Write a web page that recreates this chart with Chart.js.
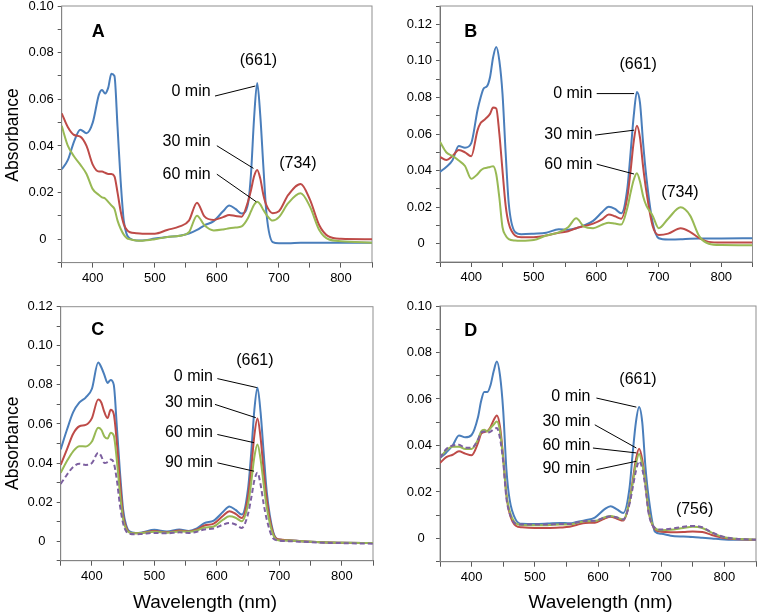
<!DOCTYPE html>
<html>
<head>
<meta charset="utf-8">
<script src="https://cdn.jsdelivr.net/npm/chart.js@4.4.1/dist/chart.umd.min.js"></script>
<style>
  html, body { margin: 0; padding: 0; background: #fff; }
  #figure { position: relative; width: 760px; height: 616px; }
  #figure canvas { position: absolute; }
</style>
</head>
<body>
<div id="figure">
  <canvas id="panel-a" width="380" height="290" style="left:0;top:0"></canvas>
  <canvas id="panel-b" width="380" height="290" style="left:380px;top:0"></canvas>
  <canvas id="panel-c" width="380" height="326" style="left:0;top:290px"></canvas>
  <canvas id="panel-d" width="380" height="326" style="left:380px;top:290px"></canvas>
</div>
<script>
// wavelength grid (nm) shared by every spectrum
const wavelengths = [350, 360, 370, 380, 390, 400, 410, 415, 420, 425,
    430, 435, 440, 445, 450, 455, 460, 470, 480, 500,
    520, 540, 555, 568, 580, 595, 610, 620, 630, 640,
    650, 655, 660, 665, 670, 675, 680, 690, 700, 715,
    735, 750, 765, 780, 800, 850];

// panel A
const aMin0 = [0.030, 0.034, 0.042, 0.047, 0.0455, 0.050, 0.062, 0.064, 0.0625, 0.065,
    0.071, 0.070, 0.048, 0.025, 0.008, 0.002, 0.0003, -0.0005, -0.0005, 0.0003,
    0.001, 0.0015, 0.0025, 0.004, 0.006, 0.0078, 0.012, 0.0145, 0.013, 0.011,
    0.015, 0.028, 0.052, 0.067, 0.053, 0.031, 0.011, -0.0012, -0.0017, -0.0017,
    -0.0015, -0.0015, -0.0015, -0.0015, -0.0015, -0.0015];
const aMin30 = [0.054, 0.048, 0.0447, 0.044, 0.040, 0.032, 0.029, 0.029, 0.0285, 0.028,
    0.028, 0.027, 0.020, 0.012, 0.0065, 0.004, 0.003, 0.0026, 0.0024, 0.0024,
    0.004, 0.0055, 0.008, 0.0157, 0.0098, 0.0083, 0.0095, 0.0104, 0.0100, 0.0097,
    0.016, 0.021, 0.027, 0.0297, 0.026, 0.019, 0.0145, 0.0112, 0.012, 0.019,
    0.0237, 0.017, 0.006, 0.0012, 0.0002, 0.0];
const aMin60 = [0.0486, 0.040, 0.0355, 0.032, 0.028, 0.0215, 0.019, 0.018, 0.0175, 0.016,
    0.0145, 0.013, 0.008, 0.0045, 0.002, 0.0005, 0.0, -0.0005, -0.0006, 0.0,
    0.001, 0.0015, 0.003, 0.0101, 0.006, 0.0038, 0.0042, 0.0047, 0.005, 0.0055,
    0.009, 0.012, 0.0148, 0.0161, 0.015, 0.0125, 0.0105, 0.008, 0.0095, 0.0155,
    0.0197, 0.014, 0.004, 0.0, -0.0008, -0.0015];

// panel B
const bMin0 = [0.0393, 0.042, 0.0457, 0.0535, 0.0525, 0.055, 0.073, 0.080, 0.085, 0.086,
    0.091, 0.102, 0.1076, 0.100, 0.082, 0.050, 0.022, 0.0065, 0.0052, 0.0055,
    0.006, 0.0079, 0.0077, 0.0085, 0.010, 0.0125, 0.0175, 0.0202, 0.019, 0.0166,
    0.031, 0.050, 0.070, 0.083, 0.077, 0.055, 0.037, 0.012, 0.003, 0.0023,
    0.0024, 0.0027, 0.0028, 0.0028, 0.0029, 0.003];
const bMin30 = [0.0475, 0.0458, 0.048, 0.0512, 0.050, 0.0478, 0.062, 0.066, 0.0675, 0.069,
    0.071, 0.0745, 0.074, 0.060, 0.040, 0.021, 0.011, 0.0045, 0.0035, 0.0036,
    0.0045, 0.006, 0.0068, 0.0085, 0.0095, 0.011, 0.0135, 0.016, 0.015, 0.0137,
    0.026, 0.040, 0.056, 0.0645, 0.058, 0.042, 0.029, 0.010, 0.0048, 0.0055,
    0.0084, 0.0065, 0.003, 0.001, 0.0006, 0.0006];
const bMin60 = [0.0557, 0.050, 0.048, 0.0455, 0.0425, 0.0355, 0.038, 0.040, 0.0412, 0.0415,
    0.042, 0.0424, 0.038, 0.025, 0.009, 0.0045, 0.0025, 0.0017, 0.0016, 0.002,
    0.0045, 0.0062, 0.009, 0.0139, 0.0095, 0.0085, 0.0105, 0.0115, 0.011, 0.0105,
    0.020, 0.028, 0.035, 0.0385, 0.034, 0.026, 0.021, 0.0155, 0.0085, 0.0137,
    0.0199, 0.0155, 0.004, 0.0, -0.0007, -0.0008];

// panel C
const cMin0 = [0.047, 0.057, 0.066, 0.071, 0.0735, 0.078, 0.0915, 0.089, 0.085, 0.081,
    0.0825, 0.080, 0.058, 0.035, 0.016, 0.008, 0.005, 0.0042, 0.0045, 0.0058,
    0.005, 0.006, 0.0052, 0.0065, 0.0092, 0.0105, 0.015, 0.0178, 0.016, 0.0136,
    0.027, 0.045, 0.067, 0.0785, 0.066, 0.045, 0.025, 0.005, 0.0008, 0.0005,
    0.0, -0.0003, -0.0005, -0.0007, -0.0008, -0.001];
const cMin30 = [0.039, 0.047, 0.055, 0.0588, 0.0595, 0.063, 0.0725, 0.071, 0.066, 0.063,
    0.0672, 0.065, 0.050, 0.030, 0.013, 0.007, 0.0045, 0.004, 0.0042, 0.0052,
    0.0045, 0.0055, 0.005, 0.006, 0.008, 0.009, 0.013, 0.0153, 0.014, 0.0119,
    0.023, 0.037, 0.054, 0.0628, 0.053, 0.036, 0.021, 0.0042, 0.0008, 0.0005,
    0.0, -0.0003, -0.0005, -0.0007, -0.0008, -0.001];
const cMin60 = [0.035, 0.041, 0.046, 0.0486, 0.0485, 0.051, 0.058, 0.057, 0.0535, 0.0525,
    0.0555, 0.054, 0.041, 0.024, 0.011, 0.006, 0.0045, 0.004, 0.0042, 0.0048,
    0.0043, 0.005, 0.0048, 0.0055, 0.007, 0.0075, 0.011, 0.0127, 0.012, 0.0102,
    0.019, 0.030, 0.043, 0.0495, 0.042, 0.029, 0.017, 0.0033, 0.0003, 0.0003,
    0.0, -0.0003, -0.0005, -0.0007, -0.0008, -0.001];
const cMin90 = [0.0293, 0.034, 0.038, 0.0396, 0.039, 0.040, 0.0452, 0.0435, 0.040, 0.0405,
    0.0418, 0.040, 0.031, 0.018, 0.009, 0.005, 0.0038, 0.0035, 0.0037, 0.0042,
    0.004, 0.0045, 0.0042, 0.0048, 0.006, 0.0065, 0.0085, 0.0093, 0.0085, 0.0068,
    0.014, 0.022, 0.031, 0.035, 0.029, 0.019, 0.011, 0.0015, 0.0003, 0.0,
    -0.0003, -0.0005, -0.0007, -0.0009, -0.001, -0.0013];

// panel D
const dMin0 = [0.0346, 0.037, 0.040, 0.0443, 0.0435, 0.0445, 0.052, 0.059, 0.063, 0.063,
    0.066, 0.072, 0.0761, 0.070, 0.055, 0.030, 0.017, 0.008, 0.0063, 0.0062,
    0.0064, 0.0067, 0.0065, 0.0072, 0.0078, 0.009, 0.0125, 0.0139, 0.0125, 0.011,
    0.022, 0.037, 0.050, 0.0565, 0.050, 0.031, 0.018, 0.003, 0.002, 0.0012,
    0.0008, 0.0006, 0.0003, 0.0, -0.0004, -0.0006];
const dMin30 = [0.0325, 0.035, 0.036, 0.0375, 0.0365, 0.0358, 0.041, 0.045, 0.0458, 0.0462,
    0.048, 0.051, 0.0529, 0.048, 0.035, 0.019, 0.011, 0.0055, 0.0048, 0.0045,
    0.0045, 0.0047, 0.005, 0.006, 0.0067, 0.0068, 0.0085, 0.0093, 0.0085, 0.0077,
    0.016, 0.025, 0.034, 0.0386, 0.034, 0.024, 0.012, 0.004, 0.0029, 0.0027,
    0.0028, 0.003, 0.0028, 0.0015, 0.0002, -0.0006];
const dMin60 = [0.0346, 0.038, 0.0395, 0.0395, 0.0385, 0.0385, 0.0425, 0.046, 0.0468, 0.046,
    0.0475, 0.049, 0.0503, 0.046, 0.034, 0.019, 0.012, 0.0065, 0.0058, 0.0057,
    0.0057, 0.006, 0.006, 0.0068, 0.0074, 0.0075, 0.009, 0.0097, 0.009, 0.0082,
    0.016, 0.024, 0.032, 0.0363, 0.032, 0.024, 0.012, 0.0045, 0.0035, 0.0037,
    0.0045, 0.005, 0.0045, 0.0025, 0.0005, -0.0006];
const dMin90 = [0.0346, 0.0385, 0.040, 0.0403, 0.039, 0.039, 0.0425, 0.0455, 0.046, 0.0455,
    0.046, 0.047, 0.0475, 0.043, 0.033, 0.0175, 0.011, 0.0063, 0.006, 0.006,
    0.006, 0.0062, 0.0062, 0.007, 0.0075, 0.0076, 0.009, 0.0096, 0.009, 0.0082,
    0.015, 0.022, 0.029, 0.0332, 0.030, 0.022, 0.011, 0.0045, 0.0038, 0.0042,
    0.005, 0.0054, 0.0048, 0.0026, 0.0006, -0.0006];

// tick labels
const xTickLabels = [400, 500, 600, 700, 800];
const yLabelEvery = 2; // label every 0.02, minor ticks every 0.01

const FONT = '"Liberation Sans", Arial, sans-serif';
const seriesLook = {
    '0 min':  { color: '#4a7ebb', dash: [], order: 3 },
    '30 min': { color: '#be4b48', dash: [], order: 2 },
    '60 min': { color: '#98b954', dash: [], order: 1 },
    '90 min': { color: '#7d60a0', dash: [5, 3], order: 0 }
};

// frame around plot area
const framePlugin = {
    id: 'frame',
    beforeDatasetsDraw(chart) {
        const { ctx, chartArea: a } = chart;
        ctx.save();
        ctx.strokeStyle = '#8f8f8f';
        ctx.lineWidth = 1;
        ctx.strokeRect(a.left, a.top, a.right - a.left, a.bottom - a.top);
        ctx.restore();
    }
};

// labels and leader lines, placed in data units
const calloutPlugin = {
    id: 'callouts',
    afterDatasetsDraw(chart, args, opts) {
        const { ctx, scales: { x, y } } = chart;
        ctx.save();
        ctx.strokeStyle = '#000';
        ctx.lineWidth = 1;
        (opts.lines || []).forEach(l => {
            ctx.beginPath();
            ctx.moveTo(x.getPixelForValue(l[0]), y.getPixelForValue(l[1]));
            ctx.lineTo(x.getPixelForValue(l[2]), y.getPixelForValue(l[3]));
            ctx.stroke();
        });
        ctx.fillStyle = '#000';
        ctx.textBaseline = 'middle';
        (opts.labels || []).forEach(t => {
            ctx.font = (t.bold ? 'bold 18px ' : '16px ') + FONT;
            ctx.textAlign = t.align || 'center';
            ctx.fillText(t.text, x.getPixelForValue(t.x), y.getPixelForValue(t.y));
        });
        ctx.restore();
    }
};

// axis titles
const axisTitlePlugin = {
    id: 'axisTitles',
    afterDraw(chart, args, opts) {
        const { ctx } = chart;
        ctx.save();
        ctx.fillStyle = '#000';
        ctx.textAlign = 'center';
        ctx.textBaseline = 'alphabetic';
        (opts.items || []).forEach(t => {
            ctx.font = t.size + 'px ' + FONT;
            ctx.save();
            ctx.translate(t.x, t.y);
            if (t.rotate) ctx.rotate(-Math.PI / 2);
            ctx.fillText(t.text, 0, 0);
            ctx.restore();
        });
        ctx.restore();
    }
};

function makePanel(id, series, yMax, area, notes, titles) {
    const canvas = document.getElementById(id);
    const W = canvas.width, H = canvas.height;
    const xAxisH = 27;
    const datasets = Object.keys(series).map(name => ({
        label: name,
        data: wavelengths.map((w, i) => ({ x: w, y: series[name][i] })),
        borderColor: seriesLook[name].color,
        borderDash: seriesLook[name].dash,
        order: seriesLook[name].order,
        borderWidth: 2,
        pointRadius: 0,
        fill: false,
        cubicInterpolationMode: 'monotone'
    }));
    return new Chart(canvas, {
        type: 'line',
        data: { datasets },
        options: {
            responsive: false,
            animation: false,
            events: [],
            layout: {
                padding: { left: 0, top: area.top, right: W - area.right, bottom: H - area.bottom - xAxisH }
            },
            plugins: {
                legend: { display: false },
                tooltip: { enabled: false },
                callouts: notes,
                axisTitles: { items: titles }
            },
            scales: {
                x: {
                    type: 'linear',
                    min: 350,
                    max: 850,
                    afterFit: s => { s.height = xAxisH; s.paddingLeft = 0; s.paddingRight = 0; },
                    border: { display: true, color: '#595959' },
                    grid: { display: true, drawOnChartArea: false, drawTicks: true, tickLength: 5, color: '#595959' },
                    ticks: {
                        stepSize: 50,
                        autoSkip: false,
                        maxRotation: 0,
                        padding: 3,
                        color: '#000',
                        font: { family: FONT, size: 13 },
                        callback: v => xTickLabels.includes(v) ? String(v) : ''
                    }
                },
                y: {
                    min: -0.01,
                    max: yMax,
                    afterFit: s => { s.width = area.left; s.paddingTop = 0; s.paddingBottom = 0; },
                    border: { display: true, color: '#595959' },
                    grid: { display: true, drawOnChartArea: false, drawTicks: true, tickLength: 4, color: '#595959' },
                    ticks: {
                        stepSize: 0.01,
                        autoSkip: false,
                        padding: 4,
                        color: '#000',
                        font: { family: FONT, size: 13 },
                        callback: v => {
                            const k = Math.round(v * 100);
                            if (k < 0 || k % yLabelEvery) return '';
                            return k === 0 ? '0  ' : (k / 100).toFixed(2);
                        }
                    }
                }
            }
        },
        plugins: [framePlugin, calloutPlugin, axisTitlePlugin]
    });
}

const yTitle = { text: 'Absorbance', size: 17.5, rotate: true };
const xTitle = { text: 'Wavelength (nm)', size: 19 };

document.addEventListener('DOMContentLoaded', () => {
    makePanel('panel-a', { '0 min': aMin0, '30 min': aMin30, '60 min': aMin60 }, 0.10,
        { left: 61.7, right: 372, top: 6, bottom: 262.6 },
        {
            labels: [
                { text: 'A', x: 409, y: 0.0887, bold: true },
                { text: '(661)', x: 667, y: 0.0768 },
                { text: '0 min', x: 590, y: 0.0633, align: 'right' },
                { text: '30 min', x: 590, y: 0.0418, align: 'right' },
                { text: '60 min', x: 590, y: 0.0279, align: 'right' },
                { text: '(734)', x: 730.6, y: 0.0326 }
            ],
            lines: [[597, 0.0614, 662, 0.0657], [600, 0.0401, 659, 0.0304], [600, 0.0279, 663.4, 0.0161]]
        },
        [Object.assign({ x: 18, y: 135 }, yTitle)]);

    makePanel('panel-b', { '0 min': bMin0, '30 min': bMin30, '60 min': bMin60 }, 0.13,
        { left: 60, right: 372.5, top: 6, bottom: 262 },
        {
            labels: [
                { text: 'B', x: 399, y: 0.1158, bold: true },
                { text: '(661)', x: 667, y: 0.0981 },
                { text: '0 min', x: 593.7, y: 0.0821, align: 'right' },
                { text: '30 min', x: 593.7, y: 0.0599, align: 'right' },
                { text: '60 min', x: 593.7, y: 0.0435, align: 'right' },
                { text: '(734)', x: 734, y: 0.0279 }
            ],
            lines: [[600.7, 0.0821, 660.5, 0.0821], [598, 0.0594, 660.5, 0.0621], [600.7, 0.0435, 660.5, 0.0381]]
        },
        []);

    makePanel('panel-c', { '0 min': cMin0, '30 min': cMin30, '60 min': cMin60, '90 min': cMin90 }, 0.12,
        { left: 60.7, right: 373, top: 16.7, bottom: 270.7 },
        {
            labels: [
                { text: 'C', x: 409.5, y: 0.1081, bold: true },
                { text: '(661)', x: 660.8, y: 0.0926 },
                { text: '0 min', x: 593.7, y: 0.0842, align: 'right' },
                { text: '30 min', x: 593.7, y: 0.0709, align: 'right' },
                { text: '60 min', x: 593.7, y: 0.0555, align: 'right' },
                { text: '90 min', x: 593.7, y: 0.0401, align: 'right' }
            ],
            lines: [[600.8, 0.0832, 664, 0.0786], [597, 0.0700, 662.4, 0.0632],
                [600.8, 0.0546, 659.6, 0.0504], [600.8, 0.0401, 659.6, 0.0358]]
        },
        [Object.assign({ x: 18, y: 153.3 }, yTitle), Object.assign({ x: 205, y: 317.5 }, xTitle)]);

    makePanel('panel-d', { '0 min': dMin0, '30 min': dMin30, '60 min': dMin60, '90 min': dMin90 }, 0.10,
        { left: 60, right: 376, top: 16, bottom: 271.7 },
        {
            labels: [
                { text: 'D', x: 398.5, y: 0.0894, bold: true },
                { text: '(661)', x: 663.3, y: 0.0685 },
                { text: '0 min', x: 588, y: 0.0611, align: 'right' },
                { text: '30 min', x: 588, y: 0.0501, align: 'right' },
                { text: '60 min', x: 588, y: 0.0399, align: 'right' },
                { text: '90 min', x: 588, y: 0.0300, align: 'right' },
                { text: '(756)', x: 752.8, y: 0.0124 }
            ],
            lines: [[597.5, 0.0604, 660.7, 0.0565], [594.9, 0.0489, 660.7, 0.0389],
                [592, 0.0389, 660.7, 0.0368], [597.5, 0.0296, 660.7, 0.0332]]
        },
        [Object.assign({ x: 220.5, y: 317.5 }, xTitle)]);
});
</script>
</body>
</html>
